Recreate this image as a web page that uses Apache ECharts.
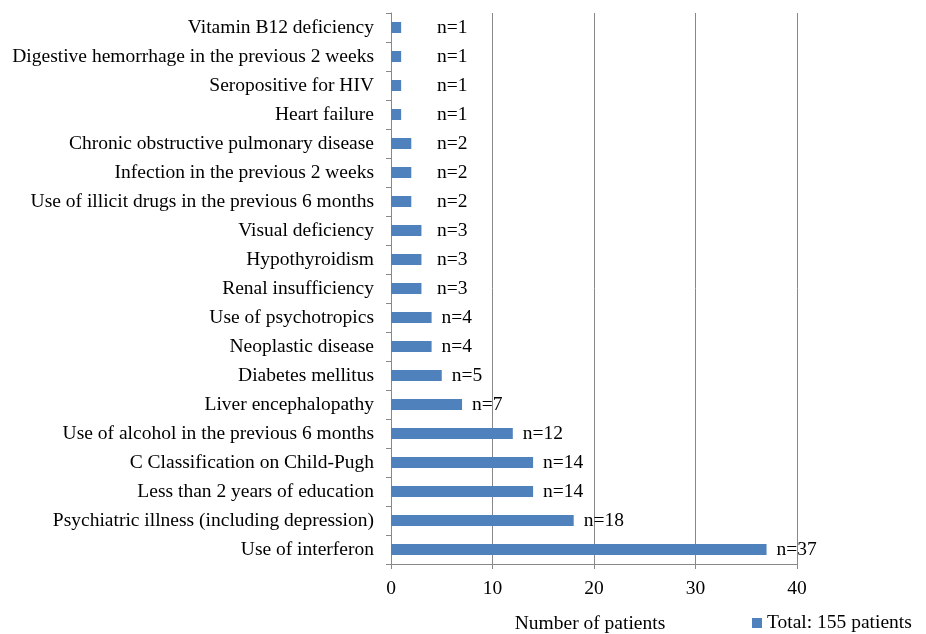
<!DOCTYPE html>
<html><head><meta charset="utf-8">
<script src="https://cdn.jsdelivr.net/npm/echarts@6/dist/echarts.min.js"></script>
<style>html,body{margin:0;padding:0;background:#fff}#c{width:926px;height:634px}</style>
</head><body><div id="c"></div>
<script>
// categories listed bottom to top (as on the value axis order)
const categories = [
  "Use of interferon",
  "Psychiatric illness (including depression)",
  "Less than 2 years of education",
  "C Classification on Child-Pugh",
  "Use of alcohol in the previous 6 months",
  "Liver encephalopathy",
  "Diabetes mellitus",
  "Neoplastic disease",
  "Use of psychotropics",
  "Renal insufficiency",
  "Hypothyroidism",
  "Visual deficiency",
  "Use of illicit drugs in the previous 6 months",
  "Infection in the previous 2 weeks",
  "Chronic obstructive pulmonary disease",
  "Heart failure",
  "Seropositive for HIV",
  "Digestive hemorrhage in the previous 2 weeks",
  "Vitamin B12 deficiency"
];
const patients = [37, 18, 14, 14, 12, 7, 5, 4, 4, 3, 3, 3, 2, 2, 2, 1, 1, 1, 1];
const xTicks = { min: 0, max: 40, interval: 10 };
const seriesName = "Total: 155 patients";
const xAxisTitle = "Number of patients";

const font = "Liberation Serif";
const fs = 19.5;
const pxPerUnit = (926 - 391 - 129) / (xTicks.max - xTicks.min);
const chart = echarts.init(document.getElementById('c'), null, {renderer: 'canvas'});
chart.setOption({
  animation: false,
  textStyle: {fontFamily: font},
  grid: {left: 391, right: 129, top: 13, bottom: 70, containLabel: false, outerBoundsMode: 'none'},
  legend: {
    data: [seriesName], left: 747, top: 608, icon: 'rect', itemWidth: 10, itemHeight: 10, itemGap: 5,
    textStyle: {fontFamily: font, fontSize: fs, color: '#000'}
  },
  xAxis: {
    type: 'value', min: xTicks.min, max: xTicks.max, interval: xTicks.interval,
    name: xAxisTitle, nameLocation: 'middle', nameGap: 50,
    nameTextStyle: {fontFamily: font, fontSize: fs, color: '#000', padding: [0, 8, 0, 0]},
    axisLine: {show: true, lineStyle: {color: '#888', width: 1}},
    axisTick: {show: true, length: 5, lineStyle: {color: '#888'}},
    axisLabel: {fontFamily: font, fontSize: fs, color: '#000', margin: 15},
    splitLine: {show: true, lineStyle: {color: '#888', width: 1}}
  },
  yAxis: {
    type: 'category', data: categories,
    axisLine: {show: true, lineStyle: {color: '#888', width: 1}},
    axisTick: {show: true, length: 5, lineStyle: {color: '#888'}},
    axisLabel: {fontFamily: font, fontSize: fs, color: '#000', margin: 17},
    splitLine: {show: false}
  },
  series: [{
    name: seriesName, type: 'bar', barWidth: 11,
    itemStyle: {color: '#4F81BD'},
    data: patients.map(v => ({
      value: v,
      label: {distance: Math.max(10, 46 - v * pxPerUnit)}
    })),
    label: {
      show: true, position: 'right', formatter: 'n={c}',
      fontFamily: font, fontSize: fs, color: '#000'
    }
  }]
});
</script></body></html>
